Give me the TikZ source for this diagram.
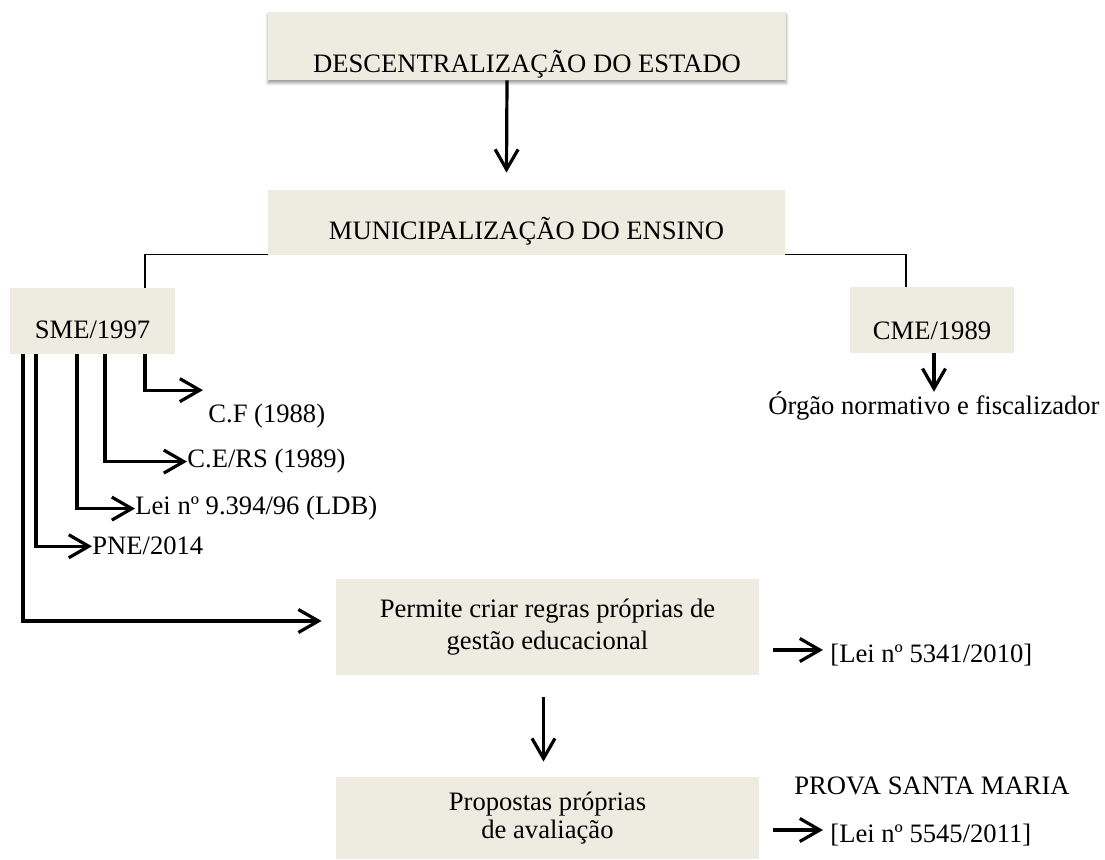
\documentclass[tikz,border=0pt]{standalone}
\usepackage{fontspec}
\setmainfont{Liberation Serif}
\usetikzlibrary{arrows.meta, shadows.blur, calc}
\definecolor{Bege}{RGB}{238,236,225}

\begin{document}
\begin{tikzpicture}[x=0.5pt, y=-0.5pt, font=\fontsize{13.3}{16}\selectfont,
	caixa/.style={rectangle, fill=Bege, inner sep=0pt, align=center},
	liga/.style={line width=0.75pt},
	seta/.style={line width=1.6pt, -{Straight Barb[length=10pt, width=11.5pt]}},
	rotulo/.style={inner sep=0pt, anchor=base west}]
	\useasboundingbox (0,0) rectangle (1105,860);
	% caixas principais
	\node[caixa, minimum width=259pt, text height=30.5pt, text depth=3.5pt, anchor=base,
		blur shadow={shadow xshift=0pt, shadow yshift=-1.5pt, shadow blur radius=1.5pt}]
		(desc) at (527,73) {DESCENTRALIZAÇÃO DO ESTADO};
	\node[caixa, minimum width=258.5pt, text height=25pt, text depth=7.5pt, anchor=base]
		(muni) at (526.5,240) {MUNICIPALIZAÇÃO DO ENSINO};
	\node[caixa, minimum width=82.5pt, text height=25.5pt, text depth=7.5pt, anchor=base]
		(sme) at (92.5,339) {SME/1997};
	\node[caixa, minimum width=82pt, text height=26.5pt, text depth=6.5pt, anchor=base]
		(cme) at (932,340) {CME/1989};
	\node[caixa, minimum width=211.5pt, minimum height=48pt]
		(perm) at (547.5,627) {Permite criar regras próprias de\\ gestão educacional};
	\node[caixa, minimum width=211.5pt, minimum height=41pt, font=\fontsize{13.3}{14}\selectfont]
		(prop) at (547.5,818) {Propostas próprias\\ de avaliação};
	% textos soltos
	\node[rotulo] (cf) at (208,423) {C.F (1988)};
	\node[rotulo] (cers) at (187,468) {C.E/RS (1989)};
	\node[rotulo] (lei) at (135,515) {Lei nº 9.394/96 (LDB)};
	\node[rotulo] (pne) at (92,555) {PNE/2014};
	\node[inner sep=0pt, anchor=base] (orgao) at (934,415) {Órgão normativo e fiscalizador};
	\node[rotulo] (lei1) at (830,663) {[Lei nº 5341/2010]};
	\node[rotulo] (prova) at (794,795) {PROVA SANTA MARIA};
	\node[rotulo] (lei2) at (830,843) {[Lei nº 5545/2011]};
	\coordinate (s1) at (773,650);
	\coordinate (s2) at (773,830);
	% ligacoes
	\draw[seta] ([xshift=-10pt]desc.south) -- ([xshift=-10pt, yshift=8.5pt]muni.north);
	\draw[liga] ([yshift=0.5pt]muni.south west) -| ([xshift=26.25pt]sme.north);
	\draw[liga] ([yshift=0.5pt]muni.south east) -| ([xshift=-13pt]cme.north);
	\draw[seta] (orgao.north |- cme.south) -- (orgao.north);
	% ramos da SME
	\draw[seta] ([xshift=26.25pt]sme.south) |- ([xshift=-2.5pt, yshift=7pt]cf.north west);
	\foreach \dx/\alvo in {6.25/cers, -7.75/lei, -28.25/pne}
		{\draw[seta] ([xshift=\dx pt]sme.south) |- (\alvo.west);}
	\draw[seta] ([xshift=-34.75pt]sme.south) |- ([xshift=-7pt, yshift=3pt]perm.west);
	\draw[seta] ([xshift=-2pt, yshift=-11pt]perm.south) -- ([xshift=-2pt, yshift=7.5pt]prop.north);
	\draw[seta, shorten >=3.5pt] (s1) -- (s1 -| lei1.west);
	\draw[seta, shorten >=3.5pt] (s2) -- (s2 -| lei2.west);
\end{tikzpicture}
\end{document}
